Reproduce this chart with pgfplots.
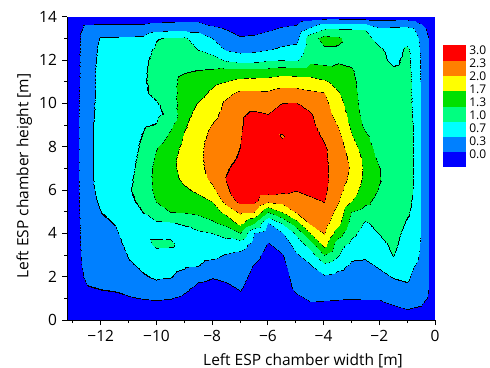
\documentclass[border=0pt]{standalone}
\usepackage{fontspec}
\setmainfont{Open Sans}
\usepackage{pgfplots}
\pgfplotsset{compat=1.18}
\definecolor{kk}{RGB}{0,0,0}
\definecolor{c0}{RGB}{0,0,255}
\definecolor{c1}{RGB}{0,128,255}
\definecolor{c2}{RGB}{0,255,255}
\definecolor{c3}{RGB}{0,255,128}
\definecolor{c4}{RGB}{0,224,0}
\definecolor{c5}{RGB}{255,255,0}
\definecolor{c6}{RGB}{255,128,0}
\definecolor{c7}{RGB}{255,0,0}
\pgfplotsset{
  colormap={esp}{color=(c0) color=(c1) color=(c2) color=(c3) color=(c4) color=(c5) color=(c6) color=(c7)},
  colormap={espl}{
    color=(c0) color=(c0) color=(c0) color=(c0) color=(c0) color=(c0) color=(c0) color=(c0) color=(c0) color=(c0) color=(c0) color=(c0) color=(c0) color=(c0) color=(c0) color=(c0)
    color=(c0) color=(c0) color=(c0) color=(c0) color=(c0) color=(c0) color=(c0) color=(c0) color=(c0) color=(c0) color=(c0) color=(c0) color=(c0) color=(c0) color=(c0) color=(c0)
    color=(kk) color=(c1) color=(c1) color=(c1) color=(c1) color=(c1) color=(c1) color=(c1) color=(c1) color=(c1) color=(c1) color=(c1) color=(c1) color=(c1) color=(c1) color=(c1)
    color=(c1) color=(c1) color=(c1) color=(c1) color=(c1) color=(c1) color=(c1) color=(c1) color=(c1) color=(c1) color=(c1) color=(c1) color=(c1) color=(c1) color=(c1) color=(c1)
    color=(kk) color=(c2) color=(c2) color=(c2) color=(c2) color=(c2) color=(c2) color=(c2) color=(c2) color=(c2) color=(c2) color=(c2) color=(c2) color=(c2) color=(c2) color=(c2)
    color=(c2) color=(c2) color=(c2) color=(c2) color=(c2) color=(c2) color=(c2) color=(c2) color=(c2) color=(c2) color=(c2) color=(c2) color=(c2) color=(c2) color=(c2) color=(c2)
    color=(kk) color=(c3) color=(c3) color=(c3) color=(c3) color=(c3) color=(c3) color=(c3) color=(c3) color=(c3) color=(c3) color=(c3) color=(c3) color=(c3) color=(c3) color=(c3)
    color=(c3) color=(c3) color=(c3) color=(c3) color=(c3) color=(c3) color=(c3) color=(c3) color=(c3) color=(c3) color=(c3) color=(c3) color=(c3) color=(c3) color=(c3) color=(c3)
    color=(kk) color=(c4) color=(c4) color=(c4) color=(c4) color=(c4) color=(c4) color=(c4) color=(c4) color=(c4) color=(c4) color=(c4) color=(c4) color=(c4) color=(c4) color=(c4)
    color=(c4) color=(c4) color=(c4) color=(c4) color=(c4) color=(c4) color=(c4) color=(c4) color=(c4) color=(c4) color=(c4) color=(c4) color=(c4) color=(c4) color=(c4) color=(c4)
    color=(kk) color=(c5) color=(c5) color=(c5) color=(c5) color=(c5) color=(c5) color=(c5) color=(c5) color=(c5) color=(c5) color=(c5) color=(c5) color=(c5) color=(c5) color=(c5)
    color=(c5) color=(c5) color=(c5) color=(c5) color=(c5) color=(c5) color=(c5) color=(c5) color=(c5) color=(c5) color=(c5) color=(c5) color=(c5) color=(c5) color=(c5) color=(c5)
    color=(kk) color=(c6) color=(c6) color=(c6) color=(c6) color=(c6) color=(c6) color=(c6) color=(c6) color=(c6) color=(c6) color=(c6) color=(c6) color=(c6) color=(c6) color=(c6)
    color=(c6) color=(c6) color=(c6) color=(c6) color=(c6) color=(c6) color=(c6) color=(c6) color=(c6) color=(c6) color=(c6) color=(c6) color=(c6) color=(c6) color=(c6) color=(c6)
    color=(kk) color=(c7) color=(c7) color=(c7) color=(c7) color=(c7) color=(c7) color=(c7) color=(c7) color=(c7) color=(c7) color=(c7) color=(c7) color=(c7) color=(c7) color=(c7)
    color=(c7) color=(c7) color=(c7) color=(c7) color=(c7) color=(c7) color=(c7) color=(c7) color=(c7) color=(c7) color=(c7) color=(c7) color=(c7) color=(c7) color=(c7) color=(c7)
  },
}
\begin{document}
\fontsize{15.5bp}{18bp}\selectfont
\begin{tikzpicture}
\useasboundingbox (-67.3bp,-48bp) rectangle (422.7bp,320bp);
\begin{axis}[
  at={(0,0)}, anchor=south west,
  scale only axis, width=367.7bp, height=303.3bp,
  xmin=-13.2, xmax=0, ymin=0, ymax=14,
  axis lines*=left,
  axis line style={line width=0.8bp},
  tick align=outside,
  xtick={-12,-10,-8,-6,-4,-2,0},
  xticklabels={−12,−10,−8,−6,−4,−2,0},
  minor xtick={-13,-11,-9,-7,-5,-3,-1},
  ytick={0,2,4,6,8,10,12,14},
  yticklabels={0,2,4,6,8,10,12,14},
  minor ytick={1,3,5,7,9,11,13},
  major tick length=5bp, minor tick length=3bp,
  tick style={black, line width=0.8bp},
  xlabel={Left ESP chamber width [m]},
  ylabel={Left ESP chamber height [m]},
  xlabel style={at={(axis description cs:0.641,0)}, anchor=base, yshift=-45bp},
  ylabel style={at={([xshift=-39bp]axis description cs:0,0.475)}, anchor=base, rotate=0},
  colormap name=espl,
  colormap access=piecewise constant,
  point meta min=0, point meta max=2.6667,
  colorbar,
  colorbar style={
    colormap name=esp,
    colormap access=piecewise constant,
    scale only axis, width=23bp, height=122bp,
    at={(parent axis.north east)}, anchor=north west,
    xshift=-0.5bp, yshift=-28.3bp,
    axis line style={draw=none},
    ytick={0.269,0.553,0.837,1.121,1.406,1.690,1.974,2.258,2.542},
    yticklabels={0.0,0.3,0.7,1.0,1.3,1.7,2.0,2.3,3.0},
    major tick length=0pt,
    yticklabel style={font=\fontsize{12bp}{13bp}\selectfont, xshift=-2bp},
  },
  axis on top,
]
\addplot[surf, shader=interp, point meta=explicit, mesh/rows=30, mesh/cols=29] coordinates {
(-13.2,0)[.067] (-13.2,.5)[.067] (-13.2,1)[.067] (-13.2,1.5)[.067] (-13.2,2)[.067] (-13.2,2.5)[.067] (-13.2,3)[.067] (-13.2,3.5)[.067] (-13.2,4)[.067] (-13.2,4.5)[.067] (-13.2,5)[.067] (-13.2,5.5)[.067] (-13.2,6)[.067] (-13.2,6.5)[.067] (-13.2,7)[.067] (-13.2,7.5)[.067] (-13.2,8)[.067] (-13.2,8.5)[.067] (-13.2,9)[.067] (-13.2,9.5)[.067] (-13.2,10)[.067] (-13.2,10.5)[.067] (-13.2,11)[.067] (-13.2,11.5)[.067] (-13.2,12)[.067] (-13.2,12.5)[.067] (-13.2,13)[.067] (-13.2,13.5)[.067] (-13.2,14)[.067]

(-13,0)[.1] (-13,.5)[.167] (-13,1)[.167] (-13,1.5)[.167] (-13,2)[.167] (-13,2.5)[.167] (-13,3)[.167] (-13,3.5)[.167] (-13,4)[.167] (-13,4.5)[.167] (-13,5)[.167] (-13,5.5)[.167] (-13,6)[.167] (-13,6.5)[.167] (-13,7)[.167] (-13,7.5)[.167] (-13,8)[.167] (-13,8.5)[.167] (-13,9)[.167] (-13,9.5)[.167] (-13,10)[.167] (-13,10.5)[.167] (-13,11)[.167] (-13,11.5)[.167] (-13,12)[.167] (-13,12.5)[.167] (-13,13)[.167] (-13,13.5)[.167] (-13,14)[.133]

(-12.5,0)[.067] (-12.5,.5)[.15] (-12.5,1)[.233] (-12.5,1.5)[.317] (-12.5,2)[.4] (-12.5,2.5)[.45] (-12.5,3)[.483] (-12.5,3.5)[.5] (-12.5,4)[.517] (-12.5,4.5)[.533] (-12.5,5)[.55] (-12.5,5.5)[.567] (-12.5,6)[.583] (-12.5,6.5)[.6] (-12.5,7)[.6] (-12.5,7.5)[.6] (-12.5,8)[.6] (-12.5,8.5)[.6] (-12.5,9)[.6] (-12.5,9.5)[.583] (-12.5,10)[.567] (-12.5,10.5)[.55] (-12.5,11)[.533] (-12.5,11.5)[.533] (-12.5,12)[.533] (-12.5,12.5)[.517] (-12.5,13)[.5] (-12.5,13.5)[.417] (-12.5,14)[.167]

(-12,0)[.067] (-12,.5)[.167] (-12,1)[.267] (-12,1.5)[.35] (-12,2)[.4] (-12,2.5)[.45] (-12,3)[.483] (-12,3.5)[.517] (-12,4)[.567] (-12,4.5)[.617] (-12,5)[.673] (-12,5.5)[.717] (-12,6)[.75] (-12,6.5)[.767] (-12,7)[.767] (-12,7.5)[.767] (-12,8)[.767] (-12,8.5)[.767] (-12,9)[.767] (-12,9.5)[.767] (-12,10)[.767] (-12,10.5)[.767] (-12,11)[.767] (-12,11.5)[.767] (-12,12)[.75] (-12,12.5)[.733] (-12,13)[.7] (-12,13.5)[.433] (-12,14)[.167]

(-11.5,0)[.067] (-11.5,.5)[.167] (-11.5,1)[.283] (-11.5,1.5)[.367] (-11.5,2)[.417] (-11.5,2.5)[.467] (-11.5,3)[.517] (-11.5,3.5)[.567] (-11.5,4)[.627] (-11.5,4.5)[.683] (-11.5,5)[.75] (-11.5,5.5)[.833] (-11.5,6)[.833] (-11.5,6.5)[.833] (-11.5,7)[.833] (-11.5,7.5)[.833] (-11.5,8)[.833] (-11.5,8.5)[.833] (-11.5,9)[.833] (-11.5,9.5)[.833] (-11.5,10)[.833] (-11.5,10.5)[.833] (-11.5,11)[.833] (-11.5,11.5)[.833] (-11.5,12)[.817] (-11.5,12.5)[.783] (-11.5,13)[.7] (-11.5,13.5)[.433] (-11.5,14)[.167]

(-11,0)[.067] (-11,.5)[.183] (-11,1)[.317] (-11,1.5)[.433] (-11,2)[.533] (-11,2.5)[.627] (-11,3)[.7] (-11,3.5)[.767] (-11,4)[.817] (-11,4.5)[.867] (-11,5)[.917] (-11,5.5)[.96] (-11,6)[.99] (-11,6.5)[.967] (-11,7)[.933] (-11,7.5)[.917] (-11,8)[.9] (-11,8.5)[.9] (-11,9)[.9] (-11,9.5)[.9] (-11,10)[.9] (-11,10.5)[.9] (-11,11)[.9] (-11,11.5)[.9] (-11,12)[.883] (-11,12.5)[.833] (-11,13)[.717] (-11,13.5)[.433] (-11,14)[.167]

(-10.5,0)[.067] (-10.5,.5)[.2] (-10.5,1)[.35] (-10.5,1.5)[.5] (-10.5,2)[.643] (-10.5,2.5)[.717] (-10.5,3)[.783] (-10.5,3.5)[.833] (-10.5,4)[.883] (-10.5,4.5)[.94] (-10.5,5)[1.007] (-10.5,5.5)[1.067] (-10.5,6)[1.117] (-10.5,6.5)[1.133] (-10.5,7)[1.117] (-10.5,7.5)[1.083] (-10.5,8)[1.05] (-10.5,8.5)[1.017] (-10.5,9)[.983] (-10.5,9.5)[.917] (-10.5,10)[.933] (-10.5,10.5)[.967] (-10.5,11)[.973] (-10.5,11.5)[.967] (-10.5,12)[.95] (-10.5,12.5)[.9] (-10.5,13)[.733] (-10.5,13.5)[.433] (-10.5,14)[.167]

(-10,0)[.067] (-10,.5)[.217] (-10,1)[.367] (-10,1.5)[.583] (-10,2)[.7] (-10,2.5)[.767] (-10,3)[.833] (-10,3.5)[1.1] (-10,4)[.9] (-10,4.5)[.967] (-10,5)[1.167] (-10,5.5)[1.35] (-10,6)[1.433] (-10,6.5)[1.45] (-10,7)[1.433] (-10,7.5)[1.383] (-10,8)[1.317] (-10,8.5)[1.133] (-10,9)[1.017] (-10,9.5)[.95] (-10,10)[.983] (-10,10.5)[1.067] (-10,11)[1.1] (-10,11.5)[1.1] (-10,12)[1.083] (-10,12.5)[1.05] (-10,13)[.983] (-10,13.5)[.5] (-10,14)[.167]

(-9.5,0)[.067] (-9.5,.5)[.2] (-9.5,1)[.35] (-9.5,1.5)[.517] (-9.5,2)[.683] (-9.5,2.5)[.75] (-9.5,3)[.817] (-9.5,3.5)[1.08] (-9.5,4)[.917] (-9.5,4.5)[.983] (-9.5,5)[1.34] (-9.5,5.5)[1.467] (-9.5,6)[1.533] (-9.5,6.5)[1.567] (-9.5,7)[1.583] (-9.5,7.5)[1.583] (-9.5,8)[1.533] (-9.5,8.5)[1.4] (-9.5,9)[1.267] (-9.5,9.5)[1.067] (-9.5,10)[1.133] (-9.5,10.5)[1.2] (-9.5,11)[1.233] (-9.5,11.5)[1.233] (-9.5,12)[1.2] (-9.5,12.5)[1.15] (-9.5,13)[1.033] (-9.5,13.5)[.533] (-9.5,14)[.167]

(-9,0)[.067] (-9,.5)[.167] (-9,1)[.283] (-9,1.5)[.4] (-9,2)[.583] (-9,2.5)[.7] (-9,3)[.783] (-9,3.5)[.85] (-9,4)[.917] (-9,4.5)[1.033] (-9,5)[1.35] (-9,5.5)[1.5] (-9,6)[1.617] (-9,6.5)[1.733] (-9,7)[1.783] (-9,7.5)[1.783] (-9,8)[1.75] (-9,8.5)[1.7] (-9,9)[1.633] (-9,9.5)[1.583] (-9,10)[1.533] (-9,10.5)[1.483] (-9,11)[1.433] (-9,11.5)[1.317] (-9,12)[1.233] (-9,12.5)[1.167] (-9,13)[1.05] (-9,13.5)[.567] (-9,14)[.167]

(-8.5,0)[.067] (-8.5,.5)[.117] (-8.5,1)[.183] (-8.5,1.5)[.267] (-8.5,2)[.4] (-8.5,2.5)[.673] (-8.5,3)[.767] (-8.5,3.5)[.867] (-8.5,4)[.95] (-8.5,4.5)[1.167] (-8.5,5)[1.4] (-8.5,5.5)[1.567] (-8.5,6)[1.733] (-8.5,6.5)[1.833] (-8.5,7)[1.9] (-8.5,7.5)[1.917] (-8.5,8)[1.9] (-8.5,8.5)[1.867] (-8.5,9)[1.817] (-8.5,9.5)[1.75] (-8.5,10)[1.683] (-8.5,10.5)[1.567] (-8.5,11)[1.467] (-8.5,11.5)[1.35] (-8.5,12)[1.167] (-8.5,12.5)[.993] (-8.5,13)[.833] (-8.5,13.5)[.567] (-8.5,14)[.167]

(-8,0)[.067] (-8,.5)[.117] (-8,1)[.167] (-8,1.5)[.25] (-8,2)[.35] (-8,2.5)[.567] (-8,3)[.733] (-8,3.5)[.867] (-8,4)[1.007] (-8,4.5)[1.283] (-8,5)[1.5] (-8,5.5)[1.683] (-8,6)[1.917] (-8,6.5)[2.083] (-8,7)[2.15] (-8,7.5)[2.183] (-8,8)[2.167] (-8,8.5)[2.1] (-8,9)[2.017] (-8,9.5)[1.917] (-8,10)[1.833] (-8,10.5)[1.733] (-8,11)[1.6] (-8,11.5)[1.383] (-8,12)[1.133] (-8,12.5)[.867] (-8,13)[.673] (-8,13.5)[.4] (-8,14)[.133]

(-7.5,0)[.067] (-7.5,.5)[.117] (-7.5,1)[.167] (-7.5,1.5)[.267] (-7.5,2)[.4] (-7.5,2.5)[.533] (-7.5,3)[.65] (-7.5,3.5)[.867] (-7.5,4)[1.133] (-7.5,4.5)[1.433] (-7.5,5)[1.767] (-7.5,5.5)[2.133] (-7.5,6)[2.3] (-7.5,6.5)[2.35] (-7.5,7)[2.317] (-7.5,7.5)[2.267] (-7.5,8)[2.233] (-7.5,8.5)[2.2] (-7.5,9)[2.167] (-7.5,9.5)[2.117] (-7.5,10)[2.067] (-7.5,10.5)[1.917] (-7.5,11)[1.683] (-7.5,11.5)[1.433] (-7.5,12)[.967] (-7.5,12.5)[.633] (-7.5,13)[.467] (-7.5,13.5)[.317] (-7.5,14)[.1]

(-7,0)[.067] (-7,.5)[.15] (-7,1)[.267] (-7,1.5)[.367] (-7,2)[.433] (-7,2.5)[.5] (-7,3)[.583] (-7,3.5)[.833] (-7,4)[1.34] (-7,4.5)[1.767] (-7,5)[2.067] (-7,5.5)[2.433] (-7,6)[2.467] (-7,6.5)[2.45] (-7,7)[2.417] (-7,7.5)[2.367] (-7,8)[2.34] (-7,8.5)[2.317] (-7,9)[2.3] (-7,9.5)[2.3] (-7,10)[2.233] (-7,10.5)[2.067] (-7,11)[1.767] (-7,11.5)[1.467] (-7,12)[.867] (-7,12.5)[.567] (-7,13)[.367] (-7,13.5)[.2] (-7,14)[.067]

(-6.5,0)[.067] (-6.5,.5)[.1] (-6.5,1)[.133] (-6.5,1.5)[.183] (-6.5,2)[.25] (-6.5,2.5)[.317] (-6.5,3)[.433] (-6.5,3.5)[.533] (-6.5,4)[.673] (-6.5,4.5)[1.367] (-6.5,5)[2.007] (-6.5,5.5)[2.433] (-6.5,6)[2.533] (-6.5,6.5)[2.6] (-6.5,7)[2.633] (-6.5,7.5)[2.633] (-6.5,8)[2.633] (-6.5,8.5)[2.567] (-6.5,9)[2.467] (-6.5,9.5)[2.383] (-6.5,10)[2.233] (-6.5,10.5)[2.067] (-6.5,11)[1.8] (-6.5,11.5)[1.45] (-6.5,12)[.9] (-6.5,12.5)[.583] (-6.5,13)[.4] (-6.5,13.5)[.2] (-6.5,14)[.067]

(-6,0)[.033] (-6,.5)[.05] (-6,1)[.067] (-6,1.5)[.1] (-6,2)[.133] (-6,2.5)[.183] (-6,3)[.233] (-6,3.5)[.317] (-6,4)[.467] (-6,4.5)[.65] (-6,5)[1.34] (-6,5.5)[2.067] (-6,6)[2.5] (-6,6.5)[2.633] (-6,7)[2.667] (-6,7.5)[2.667] (-6,8)[2.633] (-6,8.5)[2.567] (-6,9)[2.467] (-6,9.5)[2.34] (-6,10)[2.2] (-6,10.5)[2.05] (-6,11)[1.833] (-6,11.5)[1.467] (-6,12)[.983] (-6,12.5)[.65] (-6,13)[.483] (-6,13.5)[.283] (-6,14)[.067]

(-5.5,0)[.033] (-5.5,.5)[.05] (-5.5,1)[.083] (-5.5,1.5)[.117] (-5.5,2)[.167] (-5.5,2.5)[.233] (-5.5,3)[.317] (-5.5,3.5)[.467] (-5.5,4)[.65] (-5.5,4.5)[1.033] (-5.5,5)[1.673] (-5.5,5.5)[2.117] (-5.5,6)[2.417] (-5.5,6.5)[2.533] (-5.5,7)[2.583] (-5.5,7.5)[2.6] (-5.5,8)[2.533] (-5.5,8.5)[2.3] (-5.5,9)[2.533] (-5.5,9.5)[2.483] (-5.5,10)[2.34] (-5.5,10.5)[2.133] (-5.5,11)[1.883] (-5.5,11.5)[1.533] (-5.5,12)[1.007] (-5.5,12.5)[.717] (-5.5,13)[.533] (-5.5,13.5)[.367] (-5.5,14)[.1]

(-5,0)[.033] (-5,.5)[.1] (-5,1)[.25] (-5,1.5)[.433] (-5,2)[.5] (-5,2.5)[.567] (-5,3)[.633] (-5,3.5)[.8] (-5,4)[1.067] (-5,4.5)[1.533] (-5,5)[2.033] (-5,5.5)[2.167] (-5,6)[2.35] (-5,6.5)[2.5] (-5,7)[2.6] (-5,7.5)[2.633] (-5,8)[2.617] (-5,8.5)[2.6] (-5,9)[2.567] (-5,9.5)[2.5] (-5,10)[2.35] (-5,10.5)[2.133] (-5,11)[1.867] (-5,11.5)[1.5] (-5,12)[.967] (-5,12.5)[.767] (-5,13)[.567] (-5,13.5)[.417] (-5,14)[.133]

(-4.5,0)[.05] (-4.5,.5)[.2] (-4.5,1)[.4] (-4.5,1.5)[.483] (-4.5,2)[.55] (-4.5,2.5)[.633] (-4.5,3)[.833] (-4.5,3.5)[1.167] (-4.5,4)[1.673] (-4.5,4.5)[2.05] (-4.5,5)[2.133] (-4.5,5.5)[2.267] (-4.5,6)[2.433] (-4.5,6.5)[2.5] (-4.5,7)[2.533] (-4.5,7.5)[2.533] (-4.5,8)[2.5] (-4.5,8.5)[2.45] (-4.5,9)[2.4] (-4.5,9.5)[2.367] (-4.5,10)[2.233] (-4.5,10.5)[2.067] (-4.5,11)[1.833] (-4.5,11.5)[1.5] (-4.5,12)[1.267] (-4.5,12.5)[1.2] (-4.5,13)[1.2] (-4.5,13.5)[.7] (-4.5,14)[.167]

(-4,0)[.05] (-4,.5)[.2] (-4,1)[.383] (-4,1.5)[.5] (-4,2)[.617] (-4,2.5)[.9] (-4,3)[1.34] (-4,3.5)[1.8] (-4,4)[2.033] (-4,4.5)[2.133] (-4,5)[2.233] (-4,5.5)[2.35] (-4,6)[2.4] (-4,6.5)[2.417] (-4,7)[2.4] (-4,7.5)[2.383] (-4,8)[2.367] (-4,8.5)[2.3] (-4,9)[2.233] (-4,9.5)[2.167] (-4,10)[2.1] (-4,10.5)[2.017] (-4,11)[1.733] (-4,11.5)[1.467] (-4,12)[1.233] (-4,12.5)[1.3] (-4,13)[1.45] (-4,13.5)[.967] (-4,14)[.2]

(-3.5,0)[.05] (-3.5,.5)[.183] (-3.5,1)[.367] (-3.5,1.5)[.467] (-3.5,2)[.567] (-3.5,2.5)[.75] (-3.5,3)[1.033] (-3.5,3.5)[1.15] (-3.5,4)[1.5] (-3.5,4.5)[1.767] (-3.5,5)[1.9] (-3.5,5.5)[2.033] (-3.5,6)[2.117] (-3.5,6.5)[2.167] (-3.5,7)[2.2] (-3.5,7.5)[2.2] (-3.5,8)[2.167] (-3.5,8.5)[2.1] (-3.5,9)[1.983] (-3.5,9.5)[1.867] (-3.5,10)[1.783] (-3.5,10.5)[1.7] (-3.5,11)[1.567] (-3.5,11.5)[1.433] (-3.5,12)[1.3] (-3.5,12.5)[1.3] (-3.5,13)[1.4] (-3.5,13.5)[.993] (-3.5,14)[.2]

(-3,0)[.05] (-3,.5)[.167] (-3,1)[.35] (-3,1.5)[.45] (-3,2)[.533] (-3,2.5)[.617] (-3,3)[.733] (-3,3.5)[.933] (-3,4)[1.083] (-3,4.5)[1.217] (-3,5)[1.34] (-3,5.5)[1.683] (-3,6)[1.833] (-3,6.5)[1.933] (-3,7)[1.967] (-3,7.5)[1.917] (-3,8)[1.817] (-3,8.5)[1.7] (-3,9)[1.617] (-3,9.5)[1.567] (-3,10)[1.517] (-3,10.5)[1.483] (-3,11)[1.433] (-3,11.5)[1.383] (-3,12)[1.267] (-3,12.5)[1.2] (-3,13)[1.167] (-3,13.5)[.983] (-3,14)[.2]

(-2.5,0)[.05] (-2.5,.5)[.167] (-2.5,1)[.367] (-2.5,1.5)[.45] (-2.5,2)[.533] (-2.5,2.5)[.6] (-2.5,3)[.717] (-2.5,3.5)[.8] (-2.5,4)[.883] (-2.5,4.5)[.967] (-2.5,5)[1.2] (-2.5,5.5)[1.417] (-2.5,6)[1.517] (-2.5,6.5)[1.583] (-2.5,7)[1.6] (-2.5,7.5)[1.583] (-2.5,8)[1.5] (-2.5,8.5)[1.4] (-2.5,9)[1.267] (-2.5,9.5)[1.2] (-2.5,10)[1.167] (-2.5,10.5)[1.167] (-2.5,11)[1.167] (-2.5,11.5)[1.167] (-2.5,12)[1.167] (-2.5,12.5)[1.167] (-2.5,13)[1.133] (-2.5,13.5)[.983] (-2.5,14)[.2]

(-2,0)[.05] (-2,.5)[.15] (-2,1)[.367] (-2,1.5)[.467] (-2,2)[.583] (-2,2.5)[.7] (-2,3)[.817] (-2,3.5)[.917] (-2,4)[1.017] (-2,4.5)[1.1] (-2,5)[1.167] (-2,5.5)[1.233] (-2,6)[1.317] (-2,6.5)[1.36] (-2,7)[1.35] (-2,7.5)[1.267] (-2,8)[1.2] (-2,8.5)[1.167] (-2,9)[1.167] (-2,9.5)[1.167] (-2,10)[1.167] (-2,10.5)[1.167] (-2,11)[1.15] (-2,11.5)[1.117] (-2,12)[1.083] (-2,12.5)[1.05] (-2,13)[.867] (-2,13.5)[.7] (-2,14)[.2]

(-1.5,0)[.05] (-1.5,.5)[.283] (-1.5,1)[.433] (-1.5,1.5)[.567] (-1.5,2)[.683] (-1.5,2.5)[.833] (-1.5,3)[1.017] (-1.5,3.5)[1.067] (-1.5,4)[1.1] (-1.5,4.5)[1.133] (-1.5,5)[1.15] (-1.5,5.5)[1.167] (-1.5,6)[1.167] (-1.5,6.5)[1.167] (-1.5,7)[1.167] (-1.5,7.5)[1.167] (-1.5,8)[1.167] (-1.5,8.5)[1.167] (-1.5,9)[1.167] (-1.5,9.5)[1.167] (-1.5,10)[1.167] (-1.5,10.5)[1.167] (-1.5,11)[1.133] (-1.5,11.5)[1.05] (-1.5,12)[.95] (-1.5,12.5)[.9] (-1.5,13)[.833] (-1.5,13.5)[.717] (-1.5,14)[.2]

(-1,0)[.05] (-1,.5)[.34] (-1,1)[.467] (-1,1.5)[.617] (-1,2)[.717] (-1,2.5)[.783] (-1,3)[.833] (-1,3.5)[.883] (-1,4)[.933] (-1,4.5)[.983] (-1,5)[1.033] (-1,5.5)[1.067] (-1,6)[1.1] (-1,6.5)[1.117] (-1,7)[1.117] (-1,7.5)[1.117] (-1,8)[1.117] (-1,8.5)[1.117] (-1,9)[1.117] (-1,9.5)[1.1] (-1,10)[1.1] (-1,10.5)[1.1] (-1,11)[1.1] (-1,11.5)[1.083] (-1,12)[1.067] (-1,12.5)[1.05] (-1,13)[.867] (-1,13.5)[.733] (-1,14)[.2]

(-0.75,0)[.05] (-0.75,.5)[.317] (-0.75,1)[.45] (-0.75,1.5)[.533] (-0.75,2)[.6] (-0.75,2.5)[.673] (-0.75,3)[.767] (-0.75,3.5)[.85] (-0.75,4)[.9] (-0.75,4.5)[.933] (-0.75,5)[.95] (-0.75,5.5)[.967] (-0.75,6)[.983] (-0.75,6.5)[.983] (-0.75,7)[.983] (-0.75,7.5)[.983] (-0.75,8)[.983] (-0.75,8.5)[.983] (-0.75,9)[.983] (-0.75,9.5)[.967] (-0.75,10)[.95] (-0.75,10.5)[.95] (-0.75,11)[.95] (-0.75,11.5)[.933] (-0.75,12)[.917] (-0.75,12.5)[.9] (-0.75,13)[.833] (-0.75,13.5)[.66] (-0.75,14)[.2]

(-0.5,0)[.05] (-0.5,.5)[.3] (-0.5,1)[.433] (-0.5,1.5)[.5] (-0.5,2)[.55] (-0.5,2.5)[.583] (-0.5,3)[.617] (-0.5,3.5)[.633] (-0.5,4)[.65] (-0.5,4.5)[.65] (-0.5,5)[.65] (-0.5,5.5)[.65] (-0.5,6)[.65] (-0.5,6.5)[.65] (-0.5,7)[.65] (-0.5,7.5)[.65] (-0.5,8)[.65] (-0.5,8.5)[.65] (-0.5,9)[.65] (-0.5,9.5)[.65] (-0.5,10)[.65] (-0.5,10.5)[.65] (-0.5,11)[.633] (-0.5,11.5)[.633] (-0.5,12)[.633] (-0.5,12.5)[.617] (-0.5,13)[.583] (-0.5,13.5)[.467] (-0.5,14)[.133]

(-0.25,0)[.033] (-0.25,.5)[.167] (-0.25,1)[.317] (-0.25,1.5)[.35] (-0.25,2)[.35] (-0.25,2.5)[.35] (-0.25,3)[.35] (-0.25,3.5)[.35] (-0.25,4)[.35] (-0.25,4.5)[.35] (-0.25,5)[.35] (-0.25,5.5)[.35] (-0.25,6)[.35] (-0.25,6.5)[.35] (-0.25,7)[.35] (-0.25,7.5)[.35] (-0.25,8)[.35] (-0.25,8.5)[.35] (-0.25,9)[.35] (-0.25,9.5)[.35] (-0.25,10)[.35] (-0.25,10.5)[.35] (-0.25,11)[.35] (-0.25,11.5)[.35] (-0.25,12)[.35] (-0.25,12.5)[.35] (-0.25,13)[.35] (-0.25,13.5)[.267] (-0.25,14)[.1]

(0,0)[.033] (0,.5)[.1] (0,1)[.1] (0,1.5)[.1] (0,2)[.1] (0,2.5)[.1] (0,3)[.1] (0,3.5)[.1] (0,4)[.1] (0,4.5)[.1] (0,5)[.1] (0,5.5)[.1] (0,6)[.1] (0,6.5)[.1] (0,7)[.1] (0,7.5)[.1] (0,8)[.1] (0,8.5)[.1] (0,9)[.1] (0,9.5)[.1] (0,10)[.1] (0,10.5)[.1] (0,11)[.1] (0,11.5)[.1] (0,12)[.1] (0,12.5)[.1] (0,13)[.1] (0,13.5)[.1] (0,14)[.1]
};
\end{axis}
\end{tikzpicture}
\end{document}
